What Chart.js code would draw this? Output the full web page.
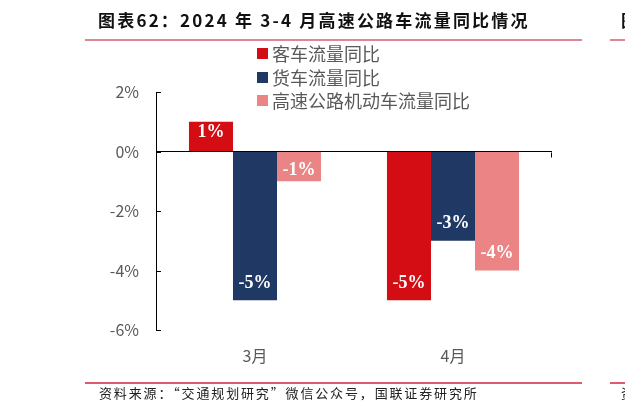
<!DOCTYPE html>
<html>
<head>
<meta charset="utf-8">
<script src="https://cdn.jsdelivr.net/npm/chart.js@4"></script>
<style>
  html, body { margin: 0; padding: 0; background: #fff; }
  #wrap { position: relative; width: 625px; height: 412px; overflow: hidden; font-family: "Noto Sans CJK SC", sans-serif; }
  #chart { position: absolute; left: 0; top: 0; }
  .title { position: absolute; left: 98px; top: 8px; font-size: 17px; font-weight: bold; letter-spacing: 2.2px; color: #111; white-space: nowrap; line-height: 24px; }
  .rule { position: absolute; height: 2px; }
  .top { top: 39px; background: #E08696; }
  .bottom { top: 382px; background: #DE5A70; }
  .source { position: absolute; left: 99px; top: 384px; font-size: 13px; letter-spacing: 1.85px; color: #222; white-space: nowrap; line-height: 18px; }
  .frag { position: absolute; white-space: nowrap; color: #111; }
  #legend { position: absolute; left: 257px; top: 42px; font-size: 18px; color: #595959; line-height: 23.5px; }
  #legend div { display: flex; align-items: center; white-space: nowrap; }
  #legend span.box { display: inline-block; width: 11px; height: 11px; margin-right: 4px; }
</style>
</head>
<body>
<div id="wrap">
  <canvas id="chart" width="625" height="412"></canvas>
  <div class="title">图表62：2024 年 3-4 月高速公路车流量同比情况</div>
  <div class="rule top" style="left:85px;width:497px"></div>
  <div class="rule top" style="left:610px;width:15px"></div>
  <div class="frag" style="left:621px;top:8px;font-size:17px;font-weight:bold;line-height:24px">图表</div>
  <div id="legend"></div>
  <div class="rule bottom" style="left:85px;width:497px"></div>
  <div class="rule bottom" style="left:610px;width:15px"></div>
  <div class="source">资料来源：“交通规划研究”微信公众号，国联证券研究所</div>
  <div class="frag" style="left:621px;top:384px;font-size:13px;line-height:18px;color:#222">资料</div>
</div>
<script>
const months = ["3月", "4月"];
const seriesNames = ["客车流量同比", "货车流量同比", "高速公路机动车流量同比"];
const passenger = [1, -5];
const freight = [-5, -3];
const allVehicles = [-1, -4];
const colors = ["#D40C13", "#1F3864", "#EB8585"];
const yTicks = [2, 0, -2, -4, -6];

const legendEl = document.getElementById("legend");
seriesNames.forEach((name, i) => {
  const row = document.createElement("div");
  row.innerHTML = `<span class="box" style="background:${colors[i]}"></span>${name}`;
  legendEl.appendChild(row);
});

// white value labels near the end of each bar
const barLabels = {
  id: "barLabels",
  afterDatasetsDraw(chart) {
    const ctx = chart.ctx;
    ctx.save();
    ctx.fillStyle = "#fff";
    ctx.font = "bold 18px 'Liberation Serif', serif";
    ctx.textAlign = "center";
    ctx.textBaseline = "middle";
    chart.data.datasets.forEach((ds, i) => {
      chart.getDatasetMeta(i).data.forEach((bar, j) => {
        const v = ds.data[j];
        const h = Math.abs(bar.base - bar.y);
        const off = Math.min(17, h * 0.36);
        const y = v >= 0 ? bar.y + off : bar.y - off;
        ctx.fillText(v + "%", bar.x, y);
      });
    });
    ctx.restore();
  }
};

// y axis line with inward ticks
const axisLines = {
  id: "axisLines",
  afterDraw(chart) {
    const ctx = chart.ctx;
    const y = chart.scales.y;
    const area = chart.chartArea;
    ctx.save();
    ctx.strokeStyle = "#000";
    ctx.lineWidth = 1;
    ctx.beginPath();
    ctx.moveTo(area.left + 0.5, y.getPixelForValue(2));
    ctx.lineTo(area.left + 0.5, y.getPixelForValue(-6));
    yTicks.forEach((t) => {
      const py = Math.round(y.getPixelForValue(t)) + 0.5;
      ctx.moveTo(area.left, py);
      ctx.lineTo(area.left + 5, py);
    });
    const zy = Math.round(y.getPixelForValue(0)) + 0.5;
    ctx.moveTo(area.right - 0.5, zy);
    ctx.lineTo(area.right - 0.5, zy + 5);
    ctx.stroke();
    ctx.restore();
  }
};

new Chart(document.getElementById("chart"), {
  type: "bar",
  data: {
    labels: months,
    datasets: [
      { label: seriesNames[0], data: passenger, backgroundColor: colors[0] },
      { label: seriesNames[1], data: freight, backgroundColor: colors[1] },
      { label: seriesNames[2], data: allVehicles, backgroundColor: colors[2] }
    ]
  },
  options: {
    responsive: false,
    animation: false,
    categoryPercentage: 0.667,
    barPercentage: 1.0,
    layout: { padding: { top: 92, right: 73, left: 0, bottom: 0 } },
    plugins: { legend: { display: false }, tooltip: { enabled: false } },
    scales: {
      x: {
        border: { display: false },
        grid: { display: false, drawTicks: false },
        ticks: { color: "#595959", font: { family: "'Noto Sans CJK SC', sans-serif", size: 16 }, padding: 16 },
        afterFit: (s) => { s.height = 82; }
      },
      y: {
        min: -6,
        max: 2,
        border: { display: false },
        grid: {
          drawTicks: false,
          color: (c) => (c.tick && c.tick.value === 0 ? "#000" : "rgba(0,0,0,0)"),
          lineWidth: 1
        },
        ticks: {
          stepSize: 2,
          padding: 17,
          color: "#595959",
          font: { family: "'Noto Sans CJK SC', sans-serif", size: 16 },
          callback: (v) => v + "%"
        },
        afterFit: (s) => { s.width = 156; }
      }
    }
  },
  plugins: [barLabels, axisLines]
});
</script>
</body>
</html>
